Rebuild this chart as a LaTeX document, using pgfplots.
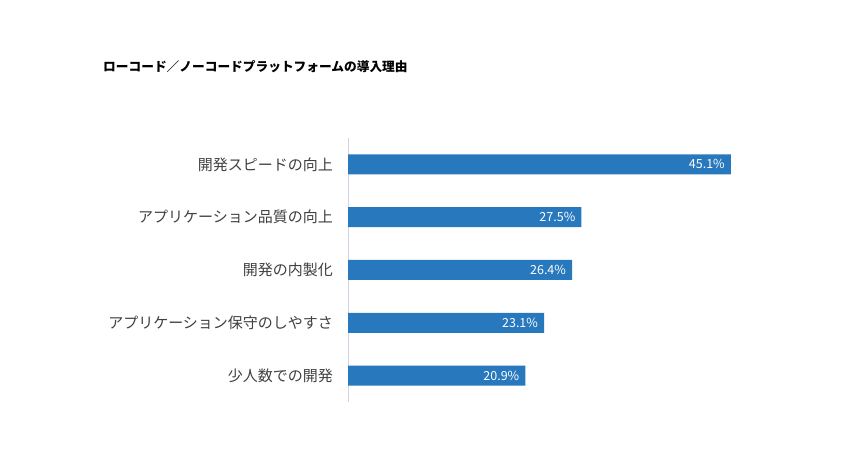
\documentclass[border=0pt]{standalone}
\usepackage{fontspec}
\setmainfont{Noto Sans CJK JP}
\usepackage{pgfplots}
\pgfplotsset{compat=1.18}

\definecolor{barblue}{RGB}{40,120,190}
\definecolor{axiscol}{RGB}{210,210,232}
\definecolor{labelgray}{RGB}{64,64,64}

\begin{document}
\begin{tikzpicture}[x=1bp,y=1bp]
\fill[white] (0,0) rectangle (850,470);
\node[anchor=west, inner sep=0pt, font=\bfseries\fontsize{12.7bp}{15bp}\selectfont]
  at (103,403) {ローコード／ノーコードプラットフォームの導入理由};
\begin{axis}[
  at={(348bp,68bp)}, anchor=south west,
  scale only axis,
  width=424.5bp, height=264bp,
  xmin=0, xmax=50,
  ymin=-0.5, ymax=4.5,
  y dir=reverse,
  xbar, bar width=20bp,
  axis lines*=left,
  x axis line style={draw=none},
  y axis line style={draw=axiscol, line width=0.8pt},
  xtick=\empty,
  ytick={0,1,2,3,4},
  yticklabels={開発スピードの向上, アプリケーション品質の向上, 開発の内製化, アプリケーション保守のしやすさ, 少人数での開発},
  major tick length=0pt,
  yticklabel style={inner sep=0pt, xshift=-15bp, text=labelgray,
    font=\fontsize{15bp}{18bp}\selectfont},
  point meta=explicit symbolic,
  nodes near coords,
  nodes near coords style={anchor=east, xshift=-6bp, text=white, inner sep=0pt,
    font=\fontsize{12.5bp}{14bp}\selectfont},
]
\addplot[fill=barblue, draw=none] coordinates {
  (45.1,0) [45.1\%]
  (27.5,1) [27.5\%]
  (26.4,2) [26.4\%]
  (23.1,3) [23.1\%]
  (20.9,4) [20.9\%]
};
\end{axis}
\end{tikzpicture}
\end{document}
